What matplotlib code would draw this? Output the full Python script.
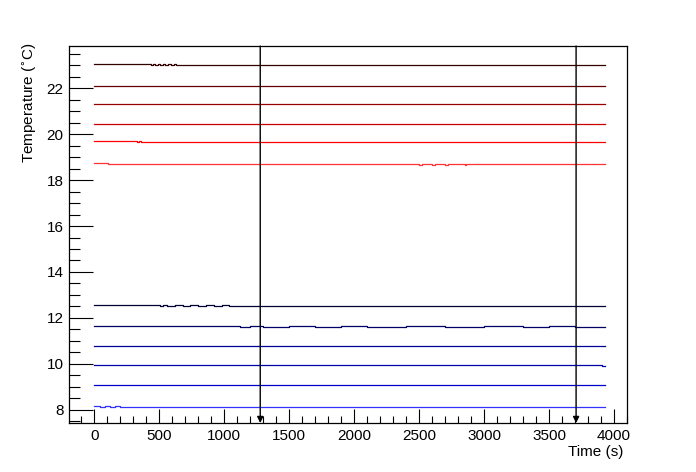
import matplotlib.pyplot as plt
import numpy as np
from matplotlib.ticker import MultipleLocator

plt.rcParams['font.family'] = ['Liberation Sans', 'DejaVu Sans']

t_end = 3930

# each sensor: step data (time, temperature)
t1 = [0, 440, 455, 470, 490, 505, 530, 545, 570, 590, 610, 630, 650, t_end]
v1 = [23.03, 23.01, 23.03, 23.01, 23.03, 23.01, 23.03, 23.01, 23.03, 23.01, 23.03, 23.01, 23.01, 23.01]
t2 = [0, 630, 650, 690, 720, 760, 800, 850, 900, 950, 1000, 1060, 1120, 1170, 1200, t_end]
v2 = [22.11, 22.08, 22.11, 22.08, 22.11, 22.08, 22.11, 22.08, 22.11, 22.08, 22.11, 22.08, 22.11, 22.08, 22.08, 22.08]
t3 = [0, 10, 30, 50, 70, 100, 130, 150, 175, t_end]
v3 = [21.31, 21.29, 21.31, 21.29, 21.31, 21.31, 21.29, 21.31, 21.29, 21.29]
t4 = [0, 30, 60, 90, 110, 140, t_end]
v4 = [20.45, 20.43, 20.45, 20.43, 20.45, 20.43, 20.43]
t5 = [0, 330, 345, 360, 372, t_end]
v5 = [19.68, 19.65, 19.68, 19.65, 19.65, 19.65]
t6 = [0, 108, 2500, 2520, 2600, 2620, 2700, 2720, 2850, 2860, t_end]
v6 = [18.72, 18.69, 18.67, 18.69, 18.67, 18.69, 18.67, 18.69, 18.67, 18.69, 18.69]

t7 = [0, 505, 530, 560, 620, 680, 740, 800, 860, 920, 980, 1040, 1070, t_end]
v7 = [12.56, 12.53, 12.56, 12.53, 12.56, 12.53, 12.56, 12.53, 12.56, 12.53, 12.56, 12.53, 12.53, 12.53]
t8 = [0, 1120, 1200, 1300, 1500, 1700, 1900, 2100, 2400, 2700, 3000, 3300, 3500, 3700, t_end]
v8 = [11.65, 11.62, 11.64, 11.62, 11.64, 11.62, 11.64, 11.62, 11.64, 11.62, 11.64, 11.62, 11.64, 11.62, 11.62]
t9 = [0, t_end]
v9 = [10.77, 10.77]
t10 = [0, 3890, 3910, t_end]
v10 = [9.94, 9.94, 9.90, 9.90]
t11 = [0, t_end]
v11 = [9.07, 9.07]
t12 = [0, 40, 80, 120, 160, 200, 225, t_end]
v12 = [8.15, 8.13, 8.15, 8.13, 8.15, 8.13, 8.13, 8.13]

series = [(t1, v1, '#330000'), (t2, v2, '#660000'), (t3, v3, '#990000'),
          (t4, v4, '#cc0000'), (t5, v5, '#ff0000'), (t6, v6, '#ff3333'),
          (t7, v7, '#000033'), (t8, v8, '#000066'), (t9, v9, '#000099'),
          (t10, v10, '#0000aa'), (t11, v11, '#0000cc'), (t12, v12, '#3333ff')]

arrow_times = [1277, 3708]

fig = plt.figure(figsize=(6.96, 4.72), dpi=100)
ax = fig.add_axes([0.0991, 0.1038, 0.8018, 0.7987])

for t, v, c in series:
    ax.plot(t, v, drawstyle='steps-post', color=c, lw=0.9)

ymin, ymax = 7.43, 23.83
ax.set_xlim(-195, 4100)
ax.set_ylim(ymin, ymax)

for ta in arrow_times:
    ax.annotate('', xy=(ta, ymin), xytext=(ta, ymax),
                arrowprops=dict(arrowstyle='-|>', color='k', lw=1, mutation_scale=9,
                                shrinkA=0, shrinkB=0))

ax.xaxis.set_major_locator(MultipleLocator(500))
ax.xaxis.set_minor_locator(MultipleLocator(100))
ax.yaxis.set_major_locator(MultipleLocator(2))
ax.yaxis.set_minor_locator(MultipleLocator(0.5))
ax.tick_params(axis='both', which='both', direction='in', labelsize=11, width=0.8)
ax.tick_params(axis='x', which='major', length=10, pad=4)
ax.tick_params(axis='x', which='minor', length=5)
ax.tick_params(axis='y', which='major', length=17, pad=4)
ax.tick_params(axis='y', which='minor', length=8)
for s in ax.spines.values():
    s.set_linewidth(0.9)

ax.set_xlabel('Time (s)', fontsize=11)
ax.xaxis.set_label_coords(0.993, -0.058)
ax.xaxis.label.set_ha('right')
ax.set_ylabel(r'Temperature ($^{\circ}$C)', fontsize=11)
ax.yaxis.set_label_coords(-0.086, 1.01)
ax.yaxis.label.set_va('top')
ax.yaxis.label.set_ha('right')

fig.savefig('out.png', dpi=100)
